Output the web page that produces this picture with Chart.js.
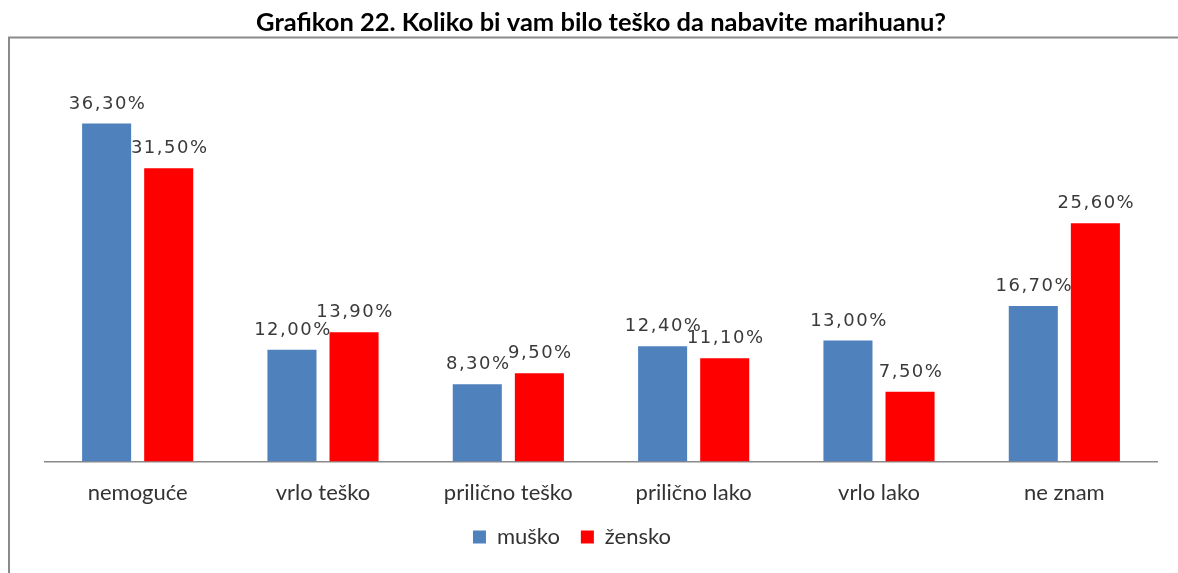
<!DOCTYPE html>
<html>
<head>
<meta charset="utf-8">
<script src="https://cdn.jsdelivr.net/npm/chart.js@4.4.1/dist/chart.umd.min.js"></script>
<style>
  html, body { margin: 0; padding: 0; background: #fff; }
  canvas { display: block; }
</style>
</head>
<body>
<canvas id="grafikon" width="1178" height="573"></canvas>
<script>
const categories = ["nemoguće", "vrlo teško", "prilično teško", "prilično lako", "vrlo lako", "ne znam"];
const musko = [36.3, 12.0, 8.3, 12.4, 13.0, 16.7];
const zensko = [31.5, 13.9, 9.5, 11.1, 7.5, 25.6];
const seriesNames = ["muško", "žensko"];
const titleText = "Grafikon 22. Koliko bi vam bilo teško da nabavite marihuanu?";

// okvir oko grafikona (gornja i lijeva linija)
const frame = {
  id: "frame",
  beforeDraw(chart) {
    const ctx = chart.ctx;
    ctx.save();
    ctx.fillStyle = "#fff";
    ctx.fillRect(0, 0, chart.width, chart.height);
    ctx.strokeStyle = "#8a8a8a";
    ctx.lineWidth = 2;
    ctx.beginPath();
    ctx.moveTo(chart.width, 37.5);
    ctx.lineTo(9, 37.5);
    ctx.lineTo(9, chart.height);
    ctx.stroke();
    ctx.restore();
  },
  // legenda je u originalu malo lijevo od sredine
  afterLayout(chart) {
    if (chart.legend) {
      chart.legend.left -= 29;
      chart.legend.right -= 29;
    }
  }
};

// vrijednosti iznad stubaca, npr. "36,30%"
const valueLabels = {
  id: "valueLabels",
  beforeDatasetsDraw(chart) {
    const ctx = chart.ctx;
    ctx.save();
    ctx.font = '18px "DejaVu Sans"';
    ctx.fillStyle = "#3a3a3a";
    ctx.textAlign = "center";
    ctx.textBaseline = "alphabetic";
    if ("letterSpacing" in ctx) ctx.letterSpacing = "1.5px";
    chart.data.datasets.forEach(function (ds, i) {
      chart.getDatasetMeta(i).data.forEach(function (bar, j) {
        const txt = ds.data[j].toFixed(2).replace(".", ",") + "%";
        ctx.fillText(txt, bar.x + 1, bar.y - 15);
      });
    });
    ctx.restore();
  }
};

new Chart(document.getElementById("grafikon"), {
  type: "bar",
  data: {
    labels: categories,
    datasets: [
      { label: seriesNames[0], data: musko, backgroundColor: "#4f81bd" },
      { label: seriesNames[1], data: zensko, backgroundColor: "#ff0000" }
    ]
  },
  options: {
    responsive: false,
    animation: false,
    categoryPercentage: 0.67,
    barPercentage: 0.79,
    layout: { padding: { left: 45, right: 21, top: 0, bottom: 15 } },
    scales: {
      x: {
        grid: { display: false, drawTicks: false },
        border: { display: true, color: "#8a8a8a", width: 1.5 },
        ticks: {
          padding: 18,
          color: "#333",
          font: { family: "Lato", size: 22 },
          maxRotation: 0
        },
        afterFit(scale) {
          scale.height -= 19;
        }
      },
      y: {
        display: false,
        min: 0,
        max: 40
      }
    },
    plugins: {
      title: {
        display: true,
        text: titleText,
        color: "#000",
        font: { family: "Lato", weight: "bold", size: 25.5 },
        padding: { top: 7, bottom: 51.5 }
      },
      legend: {
        position: "bottom",
        labels: {
          boxWidth: 13,
          boxHeight: 13,
          padding: 21,
          color: "#333",
          font: { family: "Lato", size: 22 }
        }
      },
      tooltip: { enabled: false }
    }
  },
  plugins: [frame, valueLabels]
});
</script>
</body>
</html>
